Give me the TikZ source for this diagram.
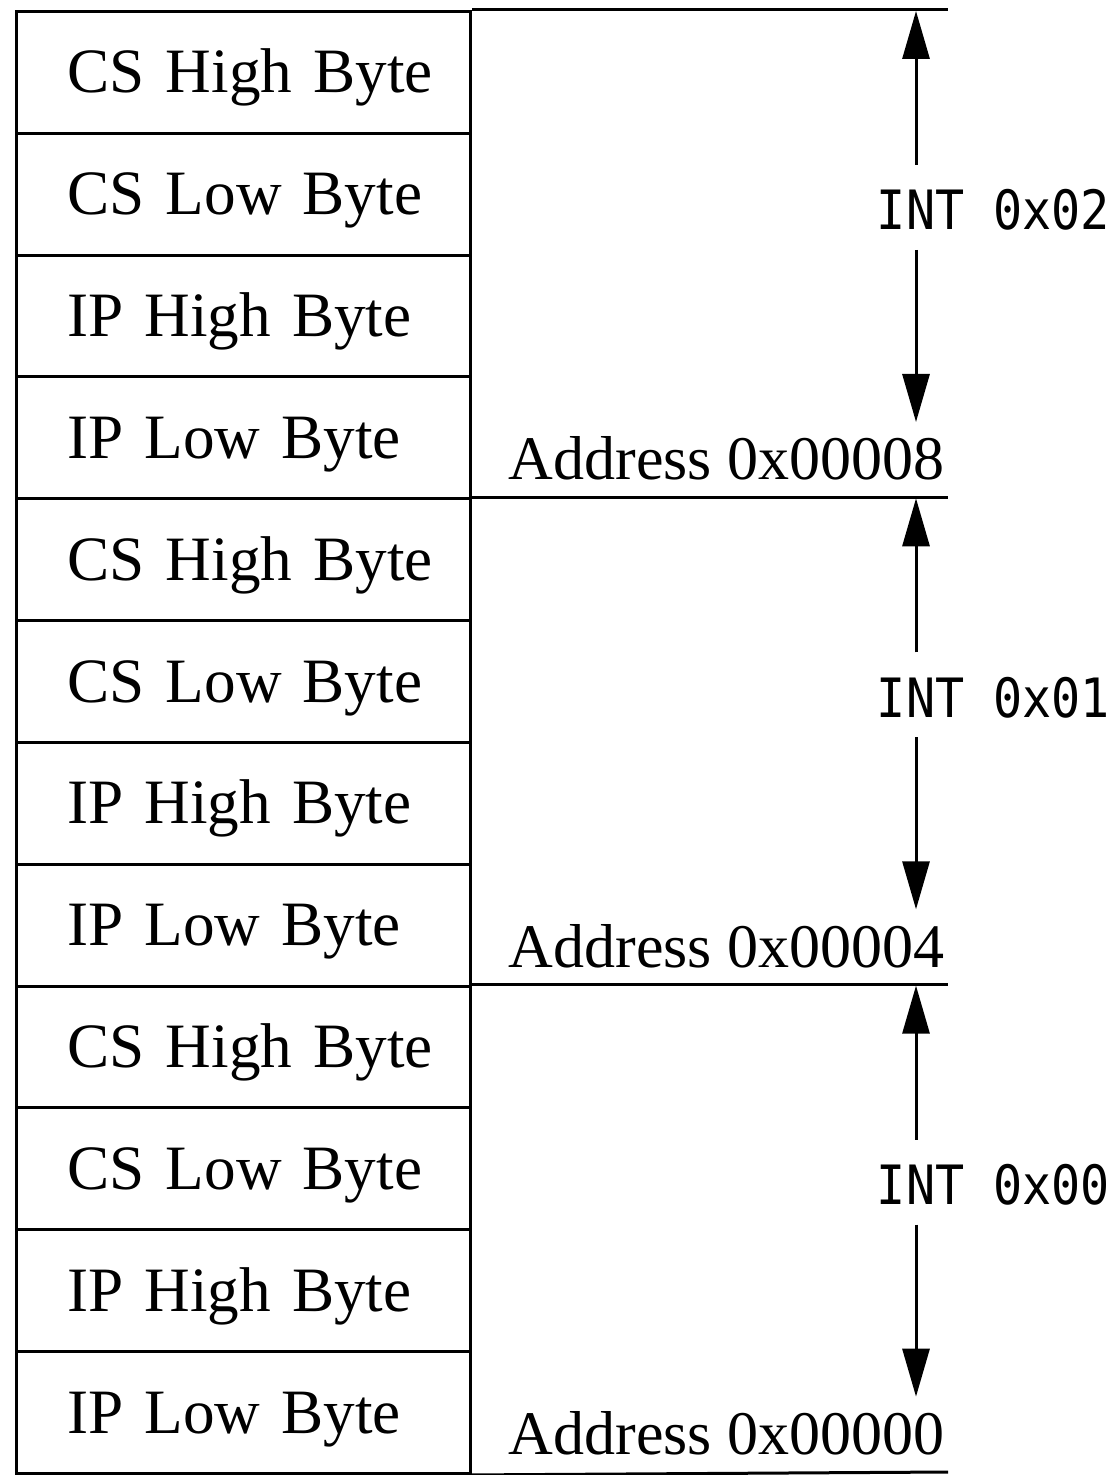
\documentclass[tikz,border=0pt]{standalone}
\usepackage{fontspec}
\setmainfont{Liberation Serif}
\newfontfamily\monofont{DejaVu Sans Mono}
\usetikzlibrary{arrows.meta}
% monospaced interrupt labels are set slightly taller than wide
\newcommand\tallmono[1]{\scalebox{1}[1.12]{#1}}
\begin{document}
\begin{tikzpicture}[x=0.5pt,y=-0.5pt,line width=1.5pt,
  cell/.style={draw,anchor=north west,rectangle,
    minimum width=227pt,minimum height=60.9pt,
    inner xsep=12.75pt,inner ysep=0pt,text width=201.5pt,align=left,
    execute at begin node={\hspace*{12.75pt}},
    text height=24pt,text depth=3.4pt,
    font=\fontsize{31.6}{36}\selectfont},
  addr/.style={anchor=base east,inner sep=0pt,font=\fontsize{31}{34}\selectfont},
  intlabel/.style={inner sep=0pt,font=\monofont\fontsize{24.2}{28}\selectfont},
  span/.style={-{Triangle[length=24pt,width=13.5pt]}}]
\useasboundingbox (0,0) rectangle (1113,1475);

% the twelve byte cells of the vector table, top to bottom
\foreach \i/\txt in {0/CS High Byte,1/CS Low Byte,2/IP High Byte,3/IP Low Byte,
                     4/CS High Byte,5/CS Low Byte,6/IP High Byte,7/IP Low Byte,
                     8/CS High Byte,9/CS Low Byte,10/IP High Byte,11/IP Low Byte}
  \node[cell] (c\i) at (15,{10+\i*121.83}) {\txt};

% one entry per interrupt: boundary line, address, and span arrows
\foreach \g/\first/\lbl/\ad in {0/0/INT 0x02/Address 0x00008,
                                 1/4/INT 0x01/Address 0x00004,
                                 2/8/INT 0x00/Address 0x00000}{
  \pgfmathsetmacro{\T}{10+4*\g*121.83}
  \coordinate (e\g) at (948,\T);
  \draw (c\first.north east) -- (e\g);
  \node[intlabel] (int\g) at (993.5,\T+200) {\tallmono{\lbl}};
  \node[addr] (ad\g) at (946,\T+470) {\ad};
  \coordinate (up\g) at (916,\T+1);
  \coordinate (us\g) at (916,\T+155);
  \coordinate (ds\g) at (916,\T+240);
  \coordinate (dn\g) at (916,\T+412);
  \draw[span] (us\g) -- (up\g);
  \draw[span] (ds\g) -- (dn\g);
}
% closing line under the last entry
\coordinate (e3) at (948,1472);
\draw (c11.south east) -- (e3);
\end{tikzpicture}
\end{document}
